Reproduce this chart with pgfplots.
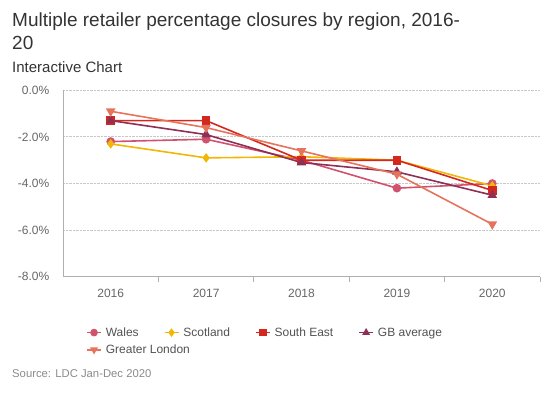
\documentclass[border=0pt]{standalone}
\usepackage{pgfplots}
\pgfplotsset{compat=1.18}
\usepackage{fontspec}
\setmainfont{Liberation Sans}
\definecolor{wales}{HTML}{D0526E}
\definecolor{scotland}{HTML}{F2B705}
\definecolor{southeast}{HTML}{D4281F}
\definecolor{gbavg}{HTML}{8E3055}
\definecolor{london}{HTML}{E6735C}
\definecolor{titlegray}{HTML}{333333}
\definecolor{labelgray}{HTML}{666666}
\definecolor{axisgray}{HTML}{B0B0B0}
\definecolor{gridgray}{HTML}{C8C8C8}
\definecolor{sourcegray}{HTML}{8A8A8A}
\begin{document}
\begin{tikzpicture}
\path[use as bounding box] (0pt,0pt) rectangle (550pt,397pt);
\node[anchor=base west, inner sep=0pt, font=\fontsize{19}{23}\selectfont, text=titlegray] at (12pt,370pt) {Multiple retailer percentage closures by region, 2016-};
\node[anchor=base west, inner sep=0pt, font=\fontsize{19}{23}\selectfont, text=titlegray] at (12pt,347pt) {20};
\node[anchor=base west, inner sep=0pt, font=\fontsize{15}{18}\selectfont, text=titlegray] at (12pt,324pt) {Interactive Chart};
\node[anchor=base west, inner sep=0pt, font=\fontsize{11.3}{13}\selectfont, text=sourcegray] at (12pt,19pt) {Source: LDC Jan-Dec 2020};
\begin{axis}[
  at={(63pt,120.3pt)}, anchor=south west,
  scale only axis, width=477pt, height=186.4pt,
  xmin=-0.5, xmax=4.5, ymin=-8, ymax=0,
  axis x line*=bottom, axis y line*=left,
  axis line style={draw=axisgray, line width=0.8pt},
  xtick={0,1,2,3,4},
  xticklabels={2016,2017,2018,2019,2020},
  minor xtick={0.5,1.5,2.5,3.5,4.5},
  major x tick style={draw=none},
  minor x tick style={draw=axisgray, line width=0.8pt},
  minor tick length=5pt,
  tick align=outside,
  ytick={-8,-6,-4,-2,0},
  yticklabels={-8.0\%,-6.0\%,-4.0\%,-2.0\%,0.0\%},
  ytick style={draw=none},
  ymajorgrids,
  grid style={densely dotted, draw=gridgray, line width=0.9pt},
  tick label style={font=\fontsize{12}{14}\selectfont, text=labelgray},
  xticklabel style={yshift=-5pt},
  yticklabel style={xshift=-6pt},
  every axis plot/.append style={line width=1.6pt},
  legend columns=4,
  legend cell align=left,
  legend style={at={(axis description cs:0.042,-0.25)}, anchor=north west,
    draw=none, fill=none, font=\fontsize{12}{14}\selectfont, text=labelgray!80!black,
    /tikz/every even column/.append style={column sep=23pt},
    /tikz/every odd column/.append style={column sep=2pt},
    row sep=3pt},
  legend image post style={mark size=3pt},
  legend image code/.code={\draw[mark repeat=2,mark phase=2] plot coordinates {(0pt,0pt) (7pt,0pt) (14pt,0pt)};},
]
\addplot[color=wales, mark=*, mark size=3.5pt] coordinates {(0,-2.2) (1,-2.1) (2,-3.0) (3,-4.2) (4,-4.0)};
\addlegendentry{Wales}
\addplot[color=scotland, mark=diamond*, mark size=3.5pt] coordinates {(0,-2.3) (1,-2.9) (2,-2.85) (3,-3.0) (4,-4.1)};
\addlegendentry{Scotland}
\addplot[color=southeast, mark=square*, mark size=3.5pt] coordinates {(0,-1.3) (1,-1.3) (2,-3.0) (3,-3.0) (4,-4.3)};
\addlegendentry{South East}
\addplot[color=gbavg, mark=triangle*, mark size=4pt] coordinates {(0,-1.3) (1,-1.9) (2,-3.1) (3,-3.5) (4,-4.5)};
\addlegendentry{GB average}
\addplot[color=london, mark=triangle*, mark options={rotate=180}, mark size=4pt] coordinates {(0,-0.9) (1,-1.6) (2,-2.6) (3,-3.6) (4,-5.75)};
\addlegendentry{\makebox[0pt][l]{Greater London}}
\end{axis}
\end{tikzpicture}
\end{document}
